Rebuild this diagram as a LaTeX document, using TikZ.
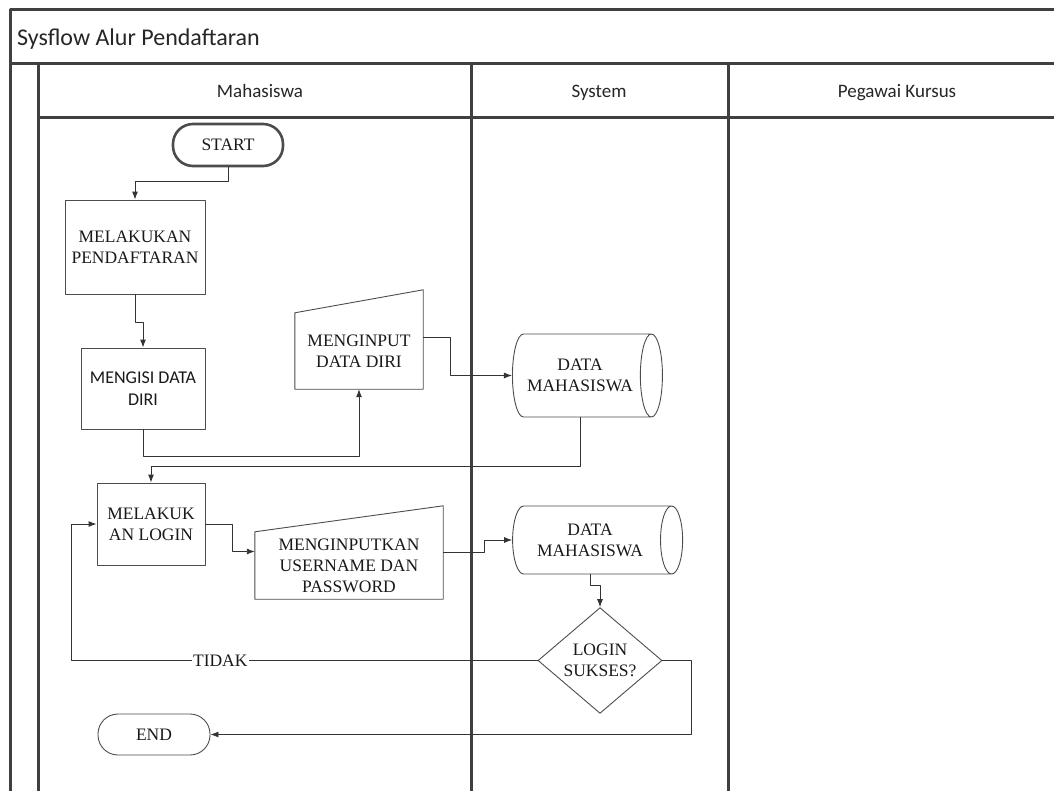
\documentclass[tikz,border=0pt]{standalone}
\usepackage{fontspec}
\setmainfont{Liberation Serif}
\newfontfamily\calibri{Carlito}
\usetikzlibrary{arrows.meta,shapes.geometric,positioning}

\tikzset{
  lane/.style={draw=black!75,line width=3pt},
  hdr/.style={anchor=base,font=\calibri\fontsize{19}{22}\selectfont,text=black!85},
  txt/.style={align=center,font=\fontsize{17.5}{21}\selectfont,text=black!90,inner sep=2pt},
  proc/.style={txt,draw=black!70,line width=0.9pt},
  term/.style={txt,draw=black!70,line width=0.9pt,rounded corners=20pt},
  inbox/.style={txt},
  shp/.style={draw=black!70,line width=0.9pt},
  db/.style={txt,cylinder,draw=black!70,line width=0.9pt,shape aspect=0.6},
  dec/.style={txt,diamond,draw=black!70,line width=0.9pt,inner sep=0pt},
  flow/.style={draw=black!80,line width=0.9pt,->}
}

\begin{document}
\begin{tikzpicture}[x=1pt,y=-1pt,line join=round,>={Latex[length=8pt,width=6pt]}]
\useasboundingbox (0,0) rectangle (1054,790);
% swimlane frame
\draw[lane] (1058,9) -- (10,9) -- (10,792);
\draw[lane] (10,63) -- (1058,63);
\draw[lane] (38,63) -- (38,792);
\draw[lane] (38,117) -- (1058,117);
\draw[lane] (471,63) -- (471,792) (728,63) -- (728,792);
\node[anchor=base west,font=\calibri\fontsize{24}{28}\selectfont,text=black!85,inner sep=0pt] (judul) at (17,45) {Sysflow Alur Pendaftaran};
\node[hdr] (lmhs) at (260,97) {Mahasiswa};
\node[hdr] (lsys) at (599,97) {System};
\node[hdr] (lpeg) at (897,97) {Pegawai Kursus};

% mahasiswa
\node[term,line width=2.6pt,minimum width=110pt,minimum height=42pt] (start) at (228,145) {START};
\node[proc,minimum width=140pt,minimum height=94pt] (daftar) at (135,247) {MELAKUKAN\\PENDAFTARAN};
\node[proc,font=\calibri\fontsize{18}{22}\selectfont,minimum width=124pt,minimum height=81pt] (isi) at (143,388.5) {MENGISI DATA\\DIRI};
\node[inbox,minimum width=128pt,minimum height=76pt] (inp1) at (359,351) {MENGINPUT\\DATA DIRI};
\draw[shp] (inp1.south west) -- (inp1.south east) -- ([yshift=23pt]inp1.north east) -- (inp1.north west) -- cycle;
\node[proc,minimum width=108pt,minimum height=82pt] (login) at (151,524) {MELAKUK\\AN LOGIN};
\node[inbox,minimum width=188pt,minimum height=67pt] (inp2) at (349,565.5) {MENGINPUTKAN\\USERNAME DAN\\PASSWORD};
\draw[shp] (inp2.south west) -- (inp2.south east) -- ([yshift=26pt]inp2.north east) -- (inp2.north west) -- cycle;
\node[term,minimum width=112pt,minimum height=41pt] (end) at (154,734.5) {END};

% system
\node[db,minimum height=150pt,minimum width=83pt] (db1) at (580,375.5) {DATA\\MAHASISWA};
\node[db,minimum height=170pt,minimum width=68pt] (db2) at (590,540) {DATA\\MAHASISWA};
\node[dec,minimum width=124pt,minimum height=95pt] (cek) at (600,660.5) {LOGIN\\SUKSES?};

\coordinate (balik) at (71,0);

\draw[flow] (start.south) -- ++(0,14) -| (daftar.north);
\draw[flow] (daftar.south) -- ++(0,28) -| (isi.north);
\draw[flow] (isi.south) -- ++(0,27) -| (inp1.south);
\draw[flow] ([yshift=14pt]inp1.east) -- ++(27,0) |- (db1.west);
\draw[flow] (db1.south) -- ++(0,49) -| (login.north);
\draw[flow] (login.east) -- ++(27,0) |- ([yshift=14pt]inp2.west);
\draw[flow] ([yshift=13pt]inp2.east) -- ++(41,0) |- (db2.west);
\draw[flow] (db2.south) -- ++(0,11) -| (cek.north);
\draw[flow] (cek.west) -- node[pos=0.68,fill=white,txt,inner sep=1pt] {TIDAK} (cek.west -| balik) |- (login.west);
\draw[flow] (cek.east) -- ++(29,0) |- (end.east);
\end{tikzpicture}
\end{document}
